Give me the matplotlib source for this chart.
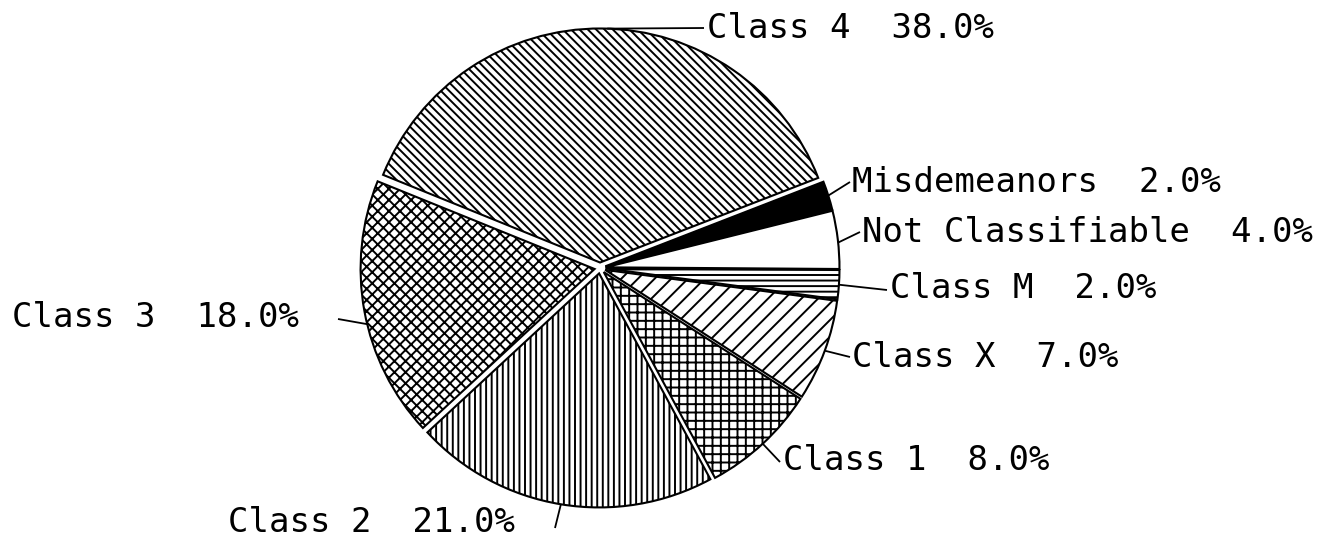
import matplotlib.pyplot as plt
import numpy as np

plt.rcParams['hatch.linewidth'] = 1.4
plt.rcParams['font.family'] = 'DejaVu Sans Mono'

labels = ['Class 4', 'Class 3', 'Class 2', 'Class 1', 'Class X', 'Class M',
          'Not Classifiable', 'Misdemeanors']
shares = [38.0, 18.0, 21.0, 8.0, 7.0, 2.0, 4.0, 2.0]
hatches = ['\\\\\\\\', 'xxx', '|||', '++', '//', '---', '', '']
faces = ['white', 'white', 'white', 'white', 'white', 'white', 'white', 'black']

# layout in image pixels (y from top): label left/baseline, leader end, anchor fraction
text_xy = [(707, 38), (12, 327), (228, 532), (783, 470), (852, 367),
           (890, 298), (862, 242), (852, 192)]
leader_end = [(704, 28), (338, 319), (555, 528), (780, 462), (850, 357),
              (887, 290), (860, 232), (850, 182)]
anchor_frac = [0.49, 0.55, 0.5, 0.5, 0.5, 0.5, 0.45, 0.5]

W, H = 1327, 540
fig = plt.figure(figsize=(W / 100, H / 100), dpi=100)
ax = fig.add_axes([0, 0, 1, 1])

# explode is in data units here (1 unit = 1 px)
wedges, _ = ax.pie(shares, center=(600, H - 268), radius=234, startangle=21.2,
                   counterclock=True, explode=[5.5] * len(shares),
                   colors=faces, frame=False,
                   wedgeprops=dict(edgecolor='black', linewidth=1.5))
for w, h in zip(wedges, hatches):
    w.set_hatch(h)

for w, lab, val, (tx, ty), (ex, ey), fr in zip(wedges, labels, shares, text_xy,
                                               leader_end, anchor_frac):
    ang = np.deg2rad(w.theta1 + fr * (w.theta2 - w.theta1))
    cx, cy = w.center
    ax.plot([cx + w.r * np.cos(ang), ex], [cy + w.r * np.sin(ang), H - ey],
            color='black', lw=1.3, solid_capstyle='butt')
    ax.text(tx, H - ty, '%s  %.1f%%' % (lab, val), ha='left', va='baseline',
            fontsize=24.5, color='black')

ax.set_xlim(0, W)
ax.set_ylim(0, H)
ax.axis('off')
fig.savefig('out.png', dpi=100, facecolor='white')
